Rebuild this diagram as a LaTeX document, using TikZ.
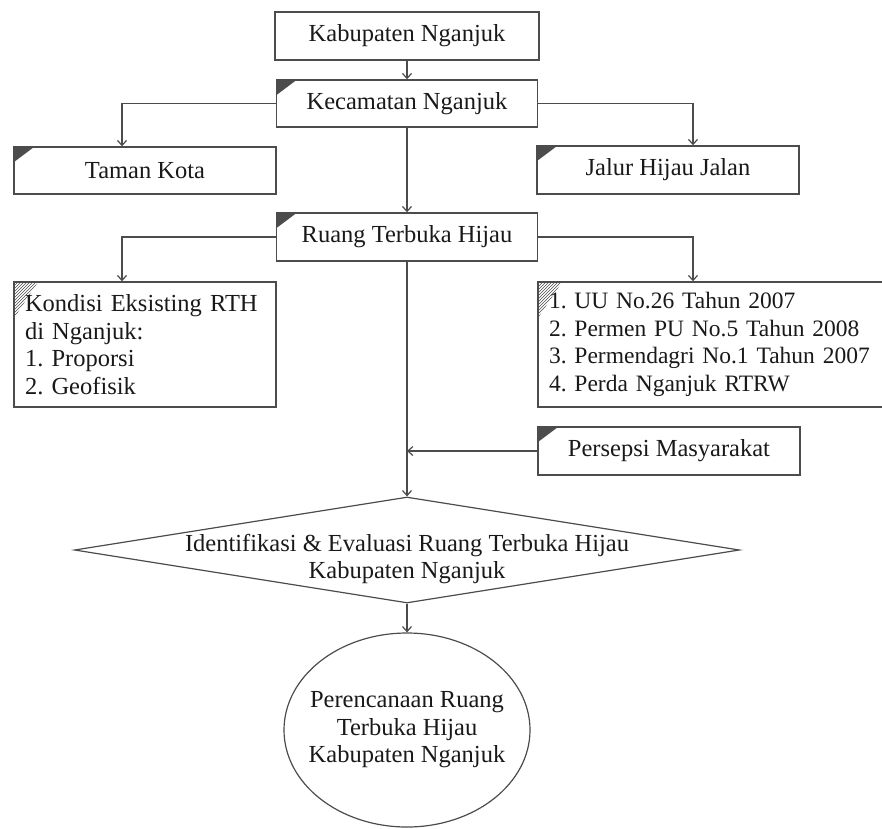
\documentclass[tikz,border=0pt]{standalone}
\usepackage{fontspec}
\setmainfont{Liberation Serif}
\usetikzlibrary{shapes.geometric,arrows.meta,patterns}
\frenchspacing

\begin{document}
\begin{tikzpicture}[x=1pt,y=1pt]
    \tikzstyle{every node}+=[font=\fontsize{24.5}{27.5}\selectfont, text=black!90]
    \tikzstyle{box}=[draw=black!70, line width=1.4pt, inner sep=0pt, minimum height=48pt]
    \tikzstyle{flag}=[box, path picture={\fill[black!70] (path picture bounding box.north west) -- ++(20,0) -- ++(-20,-15) -- cycle;}]
    \tikzstyle{hatch}=[box, align=left, path picture={\fill[pattern=north east lines, pattern color=black!70] (path picture bounding box.north west) -- ++(24,0) -- ++(-24,-36) -- cycle;}]
    \tikzstyle{link}=[draw=black!70, line width=1.2pt, -{Straight Barb[length=5pt,width=9pt]}]
    \useasboundingbox (0,0) rectangle (882,-828);
    \clip (0,0) rectangle (882,-828);
    \node[box, minimum width=264pt] (kab) at (407,-36) {Kabupaten Nganjuk};
    \node[flag, minimum width=261pt, minimum height=47pt] (kec) at (407,-103.5) {Kecamatan Nganjuk};
    \node[flag, minimum width=262pt, minimum height=47pt] (taman) at (145,-170.5) {Taman Kota};
    \node[flag, minimum width=262pt] (jalur) at (668,-170) {Jalur Hijau Jalan};
    \node[flag, minimum width=261pt] (rth) at (407,-237) {Ruang Terbuka Hijau};
    \node[hatch, minimum width=262pt, minimum height=125pt, text width=240pt] (kondisi) at (145,-344.5) {Kondisi Eksisting RTH\\di Nganjuk:\\1. Proporsi\\2. Geofisik};
    \node[hatch, minimum width=382pt, minimum height=125pt, text width=360pt, font=\fontsize{23.5}{27.5}\selectfont] (regulasi) at (729,-344.5) {1. UU No.26 Tahun 2007\\2. Permen PU No.5 Tahun 2008\\3. Permendagri No.1 Tahun 2007\\4. Perda Nganjuk RTRW};
    \node[flag, minimum width=262pt] (persepsi) at (669,-451) {Persepsi Masyarakat};
    \node[diamond, draw=black!70, line width=1.2pt, inner sep=0pt, minimum width=665pt, minimum height=106pt,
        label={[align=center, yshift=-9pt]center:{Identifikasi \& Evaluasi Ruang Terbuka Hijau\\Kabupaten Nganjuk}}] (eval) at (407,-550) {};
    \node[ellipse, draw=black!70, line width=1.2pt, inner sep=0pt, minimum width=246pt, minimum height=194pt,
        label={[align=center]center:{Perencanaan Ruang\\Terbuka Hijau\\Kabupaten Nganjuk}}] (plan) at (407,-730) {};
    \coordinate (kiri) at (122,0);
    \coordinate (kanan) at (693,0);
    \draw[link] (kab) -- (kec);
    \draw[link] (kec.west) -| (kiri |- taman.north);
    \draw[link] (kec.east) -| (kanan |- jalur.north);
    \draw[link] (kec) -- (rth);
    \draw[link] (rth.west) -| (kiri |- kondisi.north);
    \draw[link] (rth.east) -| (kanan |- regulasi.north);
    \draw[link] (rth) -- (eval);
    \draw[link] (persepsi) -- (persepsi -| rth);
    \draw[link] (eval) -- (plan);
\end{tikzpicture}
\end{document}
